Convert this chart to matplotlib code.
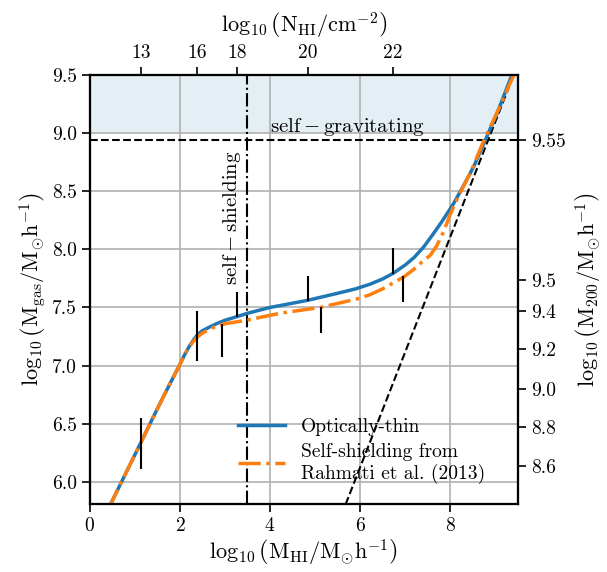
import numpy as np
import matplotlib
matplotlib.use("Agg")
import matplotlib.pyplot as plt

plt.rcParams['font.family'] = 'serif'
plt.rcParams['font.serif'] = ['cmr10']
plt.rcParams['mathtext.fontset'] = 'cm'
plt.rcParams['axes.formatter.use_mathtext'] = True
plt.rcParams['font.size'] = 14

# optically thin curve
thin_x = [0.40, 1.11, 1.50, 1.80, 2.00, 2.10, 2.20, 2.30, 2.40, 2.50, 2.65, 2.81,
          3.00, 3.26, 3.50, 4.00, 4.82, 5.48, 5.90, 6.22, 6.50, 6.74, 7.00, 7.20,
          7.41, 7.60, 7.80, 8.07, 8.30, 8.52, 8.78, 9.04, 9.37, 9.45]
thin_y = [5.76, 6.32, 6.63, 6.86, 7.01, 7.09, 7.16, 7.22, 7.27, 7.30, 7.33, 7.36,
          7.39, 7.42, 7.45, 7.50, 7.56, 7.62, 7.66, 7.70, 7.745, 7.795, 7.865, 7.93,
          8.02, 8.12, 8.23, 8.39, 8.55, 8.71, 8.94, 9.17, 9.50, 9.57]

# self-shielding (Rahmati et al. 2013)
ss_x = [0.40, 1.11, 1.50, 1.80, 2.00, 2.10, 2.20, 2.30, 2.40, 2.50, 2.65, 2.81,
        3.00, 3.48, 4.22, 5.11, 5.56, 6.00, 6.22, 6.50, 6.96, 7.20, 7.40, 7.56,
        7.70, 7.85, 8.00, 8.20, 8.44, 8.74, 9.07, 9.41, 9.48]
ss_y = [5.76, 6.32, 6.63, 6.86, 7.01, 7.09, 7.16, 7.21, 7.25, 7.28, 7.31, 7.34,
        7.36, 7.39, 7.45, 7.50, 7.54, 7.58, 7.61, 7.66, 7.76, 7.83, 7.90, 7.95,
        8.03, 8.15, 8.30, 8.47, 8.65, 8.93, 9.20, 9.50, 9.56]

# error bars (x, low, high)
bar_x = [1.13, 2.38, 2.93, 3.26, 4.84, 5.13, 6.73, 6.96]
bar_lo = [6.11, 7.04, 7.07, 7.42, 7.555, 7.28, 7.79, 7.55]
bar_hi = [6.55, 7.47, 7.36, 7.63, 7.77, 7.50, 8.01, 7.77]

# self-gravitating threshold line
diag_x = [5.50, 9.60]
diag_y = [5.63, 9.69]
grav_y = 8.94
shield_x = 3.5

# top axis: column density
top_pos = [1.13, 2.38, 3.26, 4.84, 6.73]
top_lab = ['13', '16', '18', '20', '22']

# right axis: halo mass
right_pos = [6.14, 6.47, 6.80, 7.14, 7.47, 7.74, 8.94]
right_lab = ['8.6', '8.8', '9.0', '9.2', '9.4', '9.5', '9.55']

fig = plt.figure(figsize=(6.07, 5.72), dpi=100)
ax = fig.add_axes([0.148, 0.119, 0.705, 0.750])

ax.axhspan(9.0, 9.6, color='C0', alpha=0.12, lw=0, zorder=0)
ax.axhline(grav_y, color='k', ls='--', lw=1.5, zorder=3)
ax.axvline(shield_x, color='k', ls='-.', lw=1.5, zorder=3)
ax.plot(diag_x, diag_y, 'k--', lw=1.5, zorder=3)

ax.plot(thin_x, thin_y, color='C0', lw=2.5, label='Optically-thin', zorder=4)
ax.plot(ss_x, ss_y, color='C1', ls='-.', lw=2.5,
        label='Self-shielding from\nRahmati et al. (2013)', zorder=5)
ax.vlines(bar_x, bar_lo, bar_hi, color='k', lw=1.5, zorder=6)

ax.text(4.0, 8.96, r'$\mathrm{self-gravitating}$', fontsize=15, va='bottom')
ax.text(3.40, 8.27, r'$\mathrm{self-shielding}$', fontsize=15, rotation=90,
        ha='right', va='center')

ax.set_xlim(0, 9.5)
ax.set_ylim(5.81, 9.5)
ax.set_xticks([0, 2, 4, 6, 8])
ax.set_yticks([6.0, 6.5, 7.0, 7.5, 8.0, 8.5, 9.0, 9.5])
ax.set_yticklabels(['6.0', '6.5', '7.0', '7.5', '8.0', '8.5', '9.0', '9.5'])
ax.grid(True, color='#b0b0b0', lw=1.2)
ax.set_axisbelow(True)
ax.tick_params(direction='out', length=6, width=1.2, labelsize=14)
for s in ax.spines.values():
    s.set_linewidth(1.5)
ax.set_xlabel(r'$\log_{10}\left(\mathrm{M_{HI}/M_{\odot}h^{-1}}\right)$', fontsize=16,
              labelpad=2)
ax.set_ylabel(r'$\log_{10}\left(\mathrm{M_{gas}/M_{\odot}h^{-1}}\right)$', fontsize=16,
              labelpad=2)

ax.legend(loc='lower left', bbox_to_anchor=(0.32, 0.02), frameon=False,
          fontsize=14, handlelength=2.4, handletextpad=0.8, labelspacing=0.35,
          borderaxespad=0.2)

axt = ax.twiny()
axt.set_xlim(ax.get_xlim())
axt.set_xticks(top_pos)
axt.set_xticklabels(top_lab)
axt.tick_params(direction='out', length=6, width=1.2, labelsize=14)
axt.set_xlabel(r'$\log_{10}\left(\mathrm{N_{HI}/cm^{-2}}\right)$', fontsize=16,
               labelpad=8)

axr = ax.twinx()
axr.set_ylim(ax.get_ylim())
axr.set_yticks(right_pos)
axr.set_yticklabels(right_lab)
axr.tick_params(direction='out', length=6, width=1.2, labelsize=14)
axr.set_ylabel(r'$\log_{10}\left(\mathrm{M_{200}/M_{\odot}h^{-1}}\right)$', fontsize=16,
               labelpad=6)
for a in (axt, axr):
    for s in a.spines.values():
        s.set_linewidth(1.5)

fig.savefig('out.png', dpi=100)
